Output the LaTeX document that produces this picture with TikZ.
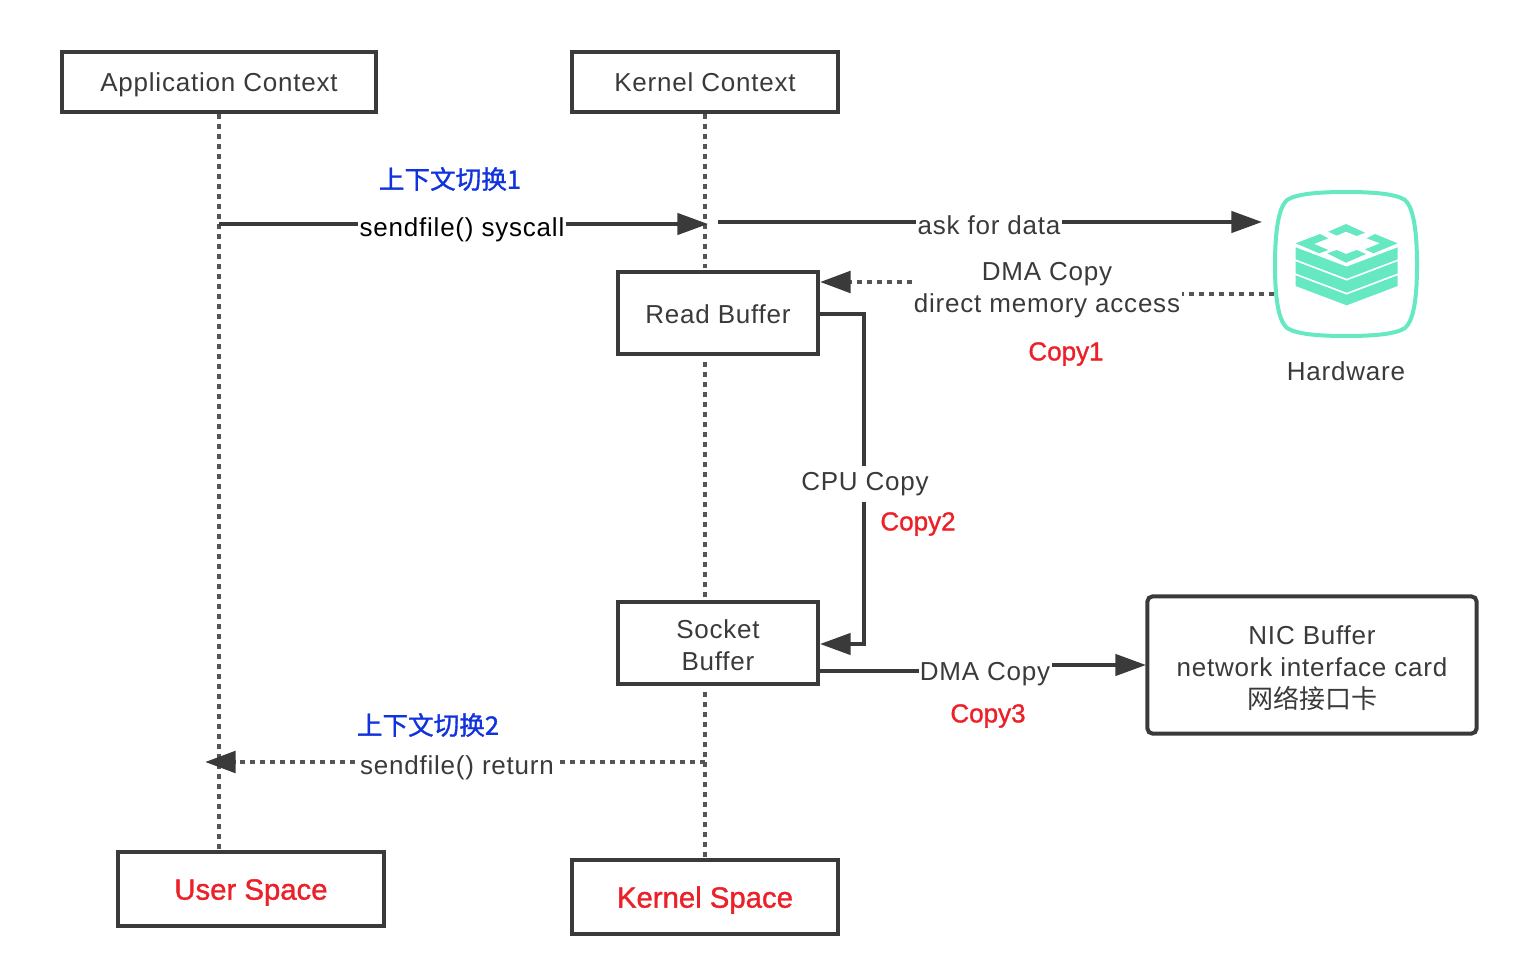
\documentclass[tikz,border=0pt]{standalone}
\usepackage{fontspec}
\newfontfamily\cjk{Noto Sans CJK SC}
\newfontfamily\cjkb[FakeBold=1.2]{Noto Sans CJK SC}
\newfontfamily\lsans[LetterSpace=3]{Liberation Sans}
\newfontfamily\lsansb[FakeBold=1.2]{Liberation Sans}
\usetikzlibrary{arrows.meta}
\definecolor{ink}{HTML}{3A3A3A}
\definecolor{dots}{HTML}{555555}
\definecolor{mint}{HTML}{66E8C2}
\definecolor{bluet}{HTML}{1133DD}
\definecolor{redt}{HTML}{EC2028}
\newcommand{\lab}{\fontsize{19.5}{24}\selectfont\lsans}
\newcommand{\lf}{\rule{0pt}{18pt}}
\tikzset{
  box/.style={draw=ink,line width=3pt,fill=white,inner sep=0pt,font=\lab,text=ink,align=center},
  one/.style={text height=17pt,text depth=2pt},
  lbl/.style={font=\lab,text=ink,align=center,inner sep=1pt,fill=white},
  plainlbl/.style={font=\lab,text=ink,align=center,inner sep=0pt},
  bluelbl/.style={font=\fontsize{19.2}{24}\selectfont\cjkb,text=bluet,inner sep=0pt},
  redlbl/.style={font=\fontsize{19.5}{24}\selectfont\lsansb,text=redt,inner sep=0pt},
  redbox/.style={box,text height=17.5pt,text depth=1.5pt,text=redt,font=\fontsize{22}{26}\selectfont\lsansb},
  solidc/.style={draw=ink,line width=2.6pt},
  dotc/.style={draw=dots,line width=3.4pt,dash pattern=on 3.4pt off 4.1pt},
  tip/.style={-{Triangle[length=23pt,width=16pt,fill=ink,color=ink]}},
}
\begin{document}
\begin{tikzpicture}[x=0.75pt,y=-0.75pt]
\useasboundingbox (0,0) rectangle (1514,970);
% boxes
\node[box,one,minimum width=235.5pt,minimum height=45pt] (app) at (219,82) {Application Context};
\node[box,one,minimum width=200pt,minimum height=45pt] (ker) at (705,82) {Kernel Context};
\node[redbox,minimum width=200pt,minimum height=56pt] (user) at (251,889) {User Space};
\node[redbox,minimum width=200pt,minimum height=56pt] (kers) at (705,897) {Kernel Space};
% lifeline anchors
\coordinate (l1) at (219,850);
\coordinate (l2a) at (705,268);
\coordinate (l2b) at (705,362);
\coordinate (l2c) at (705,598);
\coordinate (l2d) at (705,692);
\coordinate (k2) at (705,858);
\draw[dotc] (app.south) -- (l1);
\draw[dotc] (ker.south) -- (l2a);
\draw[dotc] (l2b) -- (l2c);
\draw[dotc] (l2d) -- (k2);
\node[box,one,minimum width=150pt,minimum height=61pt] (rb) at (718,313) {Read Buffer};
\node[box,minimum width=150pt,minimum height=61pt] (sb) at (718,643) {\lf Socket\\Buffer};
\node[box,rounded corners=4pt,minimum width=247pt,minimum height=103pt] (nic) at (1312,665) {\rule{0pt}{19pt}NIC Buffer\\network interface card\\{\cjk 网络接口卡}};
% hardware icon
\node[inner sep=0pt,minimum width=106pt,minimum height=108pt] (hw) at (1346,265) {};
\draw[draw=mint,line width=3pt] (1346,192)
  .. controls (1375,192) and (1396,194) .. (1405,200)
  .. controls (1412,206) and (1417,225) .. (1417,265)
  .. controls (1417,305) and (1412,322) .. (1405,328)
  .. controls (1396,334) and (1375,336) .. (1346,336)
  .. controls (1317,336) and (1296,334) .. (1287,328)
  .. controls (1280,322) and (1275,305) .. (1275,265)
  .. controls (1275,225) and (1280,206) .. (1287,200)
  .. controls (1296,194) and (1317,192) .. cycle;
\begin{scope}[shift={(1240,170)},x=0.25pt,y=-0.25pt]
\fill[mint] (167,232) -- (320,290) -- (473,232) -- (473,268) -- (320,326) -- (167,268) -- cycle;
\fill[mint] (167,274) -- (320,332) -- (473,274) -- (473,310) -- (320,368) -- (167,310) -- cycle;
\fill[mint] (167,316) -- (320,374) -- (473,316) -- (473,348) -- (320,406) -- (167,348) -- cycle;
\fill[mint] (265,185) -- (318,162) -- (375,188) -- (350,198) -- (318,185) -- (290,197) -- cycle;
\fill[mint] (380,205) -- (405,192) -- (473,220) -- (400,250) -- (375,238) -- (420,220) -- cycle;
\fill[mint] (167,220) -- (240,192) -- (265,205) -- (222,222) -- (265,240) -- (238,250) -- cycle;
\fill[mint] (262,250) -- (290,240) -- (318,252) -- (350,240) -- (378,252) -- (318,278) -- cycle;
\end{scope}
\node[plainlbl] (hwl) at (1346,371) {Hardware};
% connector free ends
\coordinate (s1) at (219,224);
\coordinate (s2) at (708,224);
\coordinate (a1) at (718,222);
\coordinate (a2) at (1262,222);
\coordinate (d1) at (1274,294);
\coordinate (d1b) at (1182,294);
\coordinate (d2) at (912,282);
\coordinate (d3) at (820,282);
\coordinate (c1) at (820,314);
\coordinate (c2) at (864,314);
\coordinate (c3) at (864,644);
\coordinate (c4) at (820,644);
\coordinate (n1) at (820,671);
\coordinate (n2) at (919,671);
\coordinate (n3) at (1052,665);
\coordinate (n4) at (1146,665);
\coordinate (r1) at (705,762);
\coordinate (r2) at (205,762);
% sendfile
\draw[solidc,tip] (s1) -- (s2);
\node[lbl,text=black] (sf) at (462,230) {sendfile() syscall};
\draw[solidc,tip] (a1) -- (a2);
\node[lbl] (ask) at (989,225) {ask for data};
\draw[dotc] (d1) -- (d1b);
\draw[dotc,tip] (d2) -- (d3);
\node[plainlbl] (dma) at (1047,290) {DMA Copy\\direct memory access};
\draw[solidc,tip] (c1) -- (c2) -- (c3) -- (c4);
\node[lbl,inner ysep=5pt] (cpu) at (865,484) {CPU Copy};
\draw[solidc] (n1) -- (n2);
\draw[solidc,tip] (n3) -- (n4);
\node[plainlbl] (dma3) at (985,674) {DMA Copy};
\draw[dotc,tip] (r1) -- (r2);
\node[lbl] (ret) at (457,768) {sendfile() return};
% annotations
\node[bluelbl] (u1) at (450,179) {上下文切换1};
\node[bluelbl] (u2) at (428,725) {上下文切换2};
\node[redlbl] (cp1) at (1066,354) {Copy1};
\node[redlbl] (cp2) at (918,524) {Copy2};
\node[redlbl] (cp3) at (988,716) {Copy3};
\end{tikzpicture}
\end{document}
